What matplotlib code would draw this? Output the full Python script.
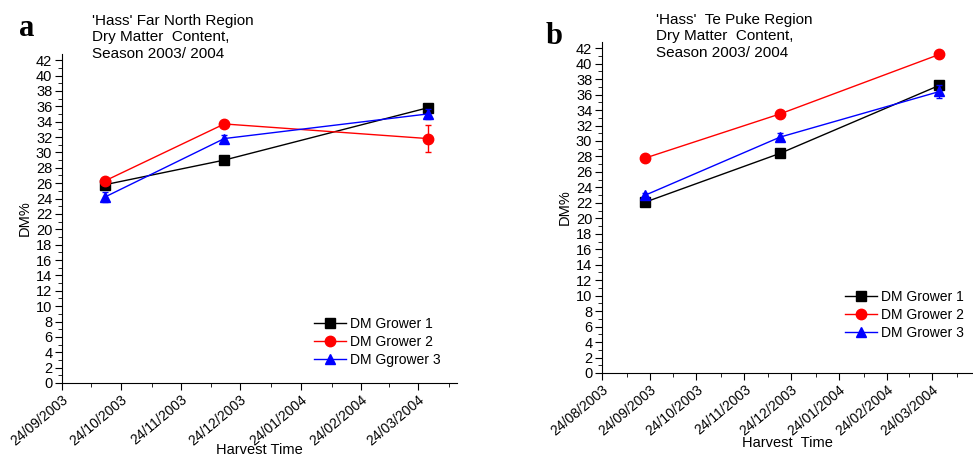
import datetime as dt
import matplotlib
matplotlib.use("Agg")
import matplotlib.pyplot as plt
import matplotlib.dates as mdates
from matplotlib.ticker import MultipleLocator

plt.rcParams['font.family'] = ['Liberation Sans', 'DejaVu Sans']

# panel a: Far North
dates_a = [dt.date(2003, 10, 16), dt.date(2003, 12, 16), dt.date(2004, 3, 29)]
g1_a = [25.8, 29.0, 35.8]
g2_a = [26.3, 33.7, 31.8]
g3_a = [24.2, 31.8, 35.0]
g1_a_err = [0.3, 0.3, 0.3]
g2_a_err = [0.3, 0.3, 1.8]
g3_a_err = [0.7, 0.5, 0.6]

# panel b: Te Puke
dates_b = [dt.date(2003, 9, 21), dt.date(2003, 12, 17), dt.date(2004, 3, 29)]
g1_b = [22.1, 28.4, 37.2]
g2_b = [27.8, 33.5, 41.2]
g3_b = [23.0, 30.5, 36.4]
g1_b_err = [0.3, 0.3, 0.3]
g2_b_err = [0.2, 0.2, 0.2]
g3_b_err = [0.3, 0.5, 0.9]

fig = plt.figure(figsize=(9.73, 4.57), dpi=100)
W, H = 973, 457


def make_ax(left, right, top, bottom):
    return fig.add_axes([left / W, 1 - bottom / H, (right - left) / W, (bottom - top) / H])


def style(ax, xmin, xmax):
    for s in ['top', 'right']:
        ax.spines[s].set_visible(False)
    ax.set_xlim(mdates.date2num(xmin), mdates.date2num(xmax))
    ax.set_ylim(0, 42.8)
    ax.yaxis.set_major_locator(MultipleLocator(2))
    ax.yaxis.set_minor_locator(MultipleLocator(1))
    ax.xaxis.set_major_locator(mdates.MonthLocator(bymonthday=24))
    ax.xaxis.set_minor_locator(mdates.MonthLocator(bymonthday=9))
    ax.xaxis.set_major_formatter(mdates.DateFormatter('%d/%m/%Y'))
    ax.tick_params(which='major', length=5, labelsize=10.5, pad=2)
    ax.tick_params(axis='x', labelsize=10)
    ax.tick_params(which='minor', length=3)
    for lab in ax.get_xticklabels():
        lab.set_rotation(40)
        lab.set_ha('right')
        lab.set_rotation_mode('anchor')


def draw(ax, dates, series, errs, labels, anchor):
    specs = [('black', 's', 6.5), ('red', 'o', 7.5), ('blue', '^', 7.5)]
    for (c, m, ms), y, e, lab in zip(specs, series, errs, labels):
        ax.errorbar(dates, y, yerr=e, fmt='none', ecolor=c, capsize=2.5, elinewidth=1)
        ax.plot(dates, y, color=c, marker=m, markersize=ms, lw=1, label=lab)
    ax.legend(loc='lower right', frameon=False, fontsize=10, handlelength=2.3,
              handletextpad=0.3, labelspacing=0.3, bbox_to_anchor=anchor)


ax1 = make_ax(62, 457, 54, 383)
draw(ax1, dates_a, [g1_a, g2_a, g3_a], [g1_a_err, g2_a_err, g3_a_err],
     ['DM Grower 1', 'DM Grower 2', 'DM Ggrower 3'], (0.99, 0.01))
style(ax1, dt.date(2003, 9, 24), dt.date(2004, 4, 13))
ax1.set_ylabel('DM%', fontsize=10.5, labelpad=3)
ax1.set_xlabel('Harvest Time', fontsize=10.5, labelpad=-4)

ax2 = make_ax(602, 972, 42, 373)
draw(ax2, dates_b, [g1_b, g2_b, g3_b], [g1_b_err, g2_b_err, g3_b_err],
     ['DM Grower 1', 'DM Grower 2', 'DM Grower 3'], (1.013, 0.062))
style(ax2, dt.date(2003, 8, 24), dt.date(2004, 4, 19))
ax2.set_ylabel('DM%', fontsize=10.5, labelpad=3)
ax2.set_xlabel('Harvest  Time', fontsize=10.5, labelpad=-2)

fig.text(92 / W, 1 - 14 / H, "'Hass' Far North Region\nDry Matter  Content,\nSeason 2003/ 2004",
         fontsize=11, va='top', ha='left', linespacing=1.22)
fig.text(656 / W, 1 - 13 / H, "'Hass'  Te Puke Region\nDry Matter  Content,\nSeason 2003/ 2004",
         fontsize=11, va='top', ha='left', linespacing=1.22)
fig.text(19 / W, 1 - 28 / H, 'a', fontsize=22, fontweight='bold', family='Liberation Serif', va='center')
fig.text(546 / W, 1 - 36 / H, 'b', fontsize=22, fontweight='bold', family='Liberation Serif', va='center')

fig.savefig('out.png', dpi=100)
